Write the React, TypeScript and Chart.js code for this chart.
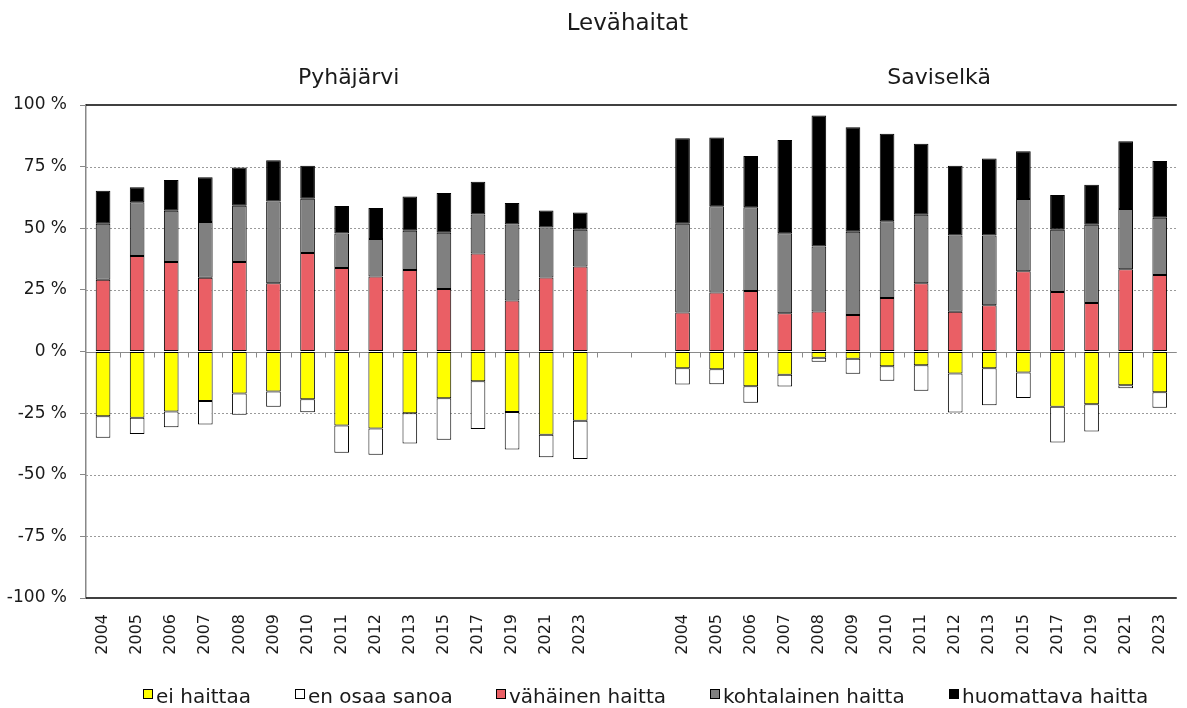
import React, { useEffect, useRef } from 'react';
import { Chart, registerables } from 'chart.js';

Chart.register(...registerables);

const years = ['2004', '2005', '2006', '2007', '2008', '2009', '2010', '2011', '2012', '2013', '2015', '2017', '2019', '2021', '2023'];
const lakes = ['Pyhäjärvi', 'Saviselkä'];
const chartTitle = 'Levähaitat';
const seriesNames = ['ei haittaa', 'en osaa sanoa', 'vähäinen haitta', 'kohtalainen haitta', 'huomattava haitta'];
const seriesColors = ['#FFFF00', '#FFFFFF', '#EA5F65', '#808080', '#000000'];
const yTickValues = [-100, -75, -50, -25, 0, 25, 50, 75, 100];

// Pyhäjärvi (% of answers)
const pyhEiHaittaa = [-26.3, -26.9, -24.3, -20.1, -17.0, -16.2, -19.4, -30.0, -31.2, -25.1, -19.0, -12.1, -24.5, -33.8, -28.1];
const pyhEnOsaa = [-8.7, -6.6, -6.4, -9.5, -8.7, -6.2, -5.2, -11.1, -10.7, -12.2, -16.8, -19.3, -15.3, -9.1, -15.5];
const pyhVahainen = [29.1, 38.7, 36.3, 29.9, 36.3, 27.7, 40.0, 33.9, 30.4, 33.1, 25.4, 39.8, 20.7, 30.0, 34.5];
const pyhKohtalainen = [22.7, 21.8, 20.8, 22.6, 22.8, 33.2, 22.0, 14.0, 15.2, 15.9, 22.8, 15.8, 30.8, 20.3, 14.9];
const pyhHuomattava = [13.4, 6.1, 12.5, 18.2, 15.5, 16.7, 13.4, 11.1, 12.6, 13.9, 16.1, 13.3, 8.7, 6.9, 7.0];

// Saviselkä (% of answers)
const savEiHaittaa = [-6.8, -7.2, -14.1, -9.4, -2.5, -2.9, -6.0, -5.6, -8.9, -6.8, -8.5, -22.4, -21.4, -13.7, -16.5];
const savEnOsaa = [-6.6, -6.1, -6.7, -4.8, -1.7, -6.1, -5.9, -10.3, -15.8, -15.0, -10.4, -14.5, -11.1, -1.2, -6.3];
const savVahainen = [15.8, 23.9, 24.5, 15.5, 16.2, 14.8, 21.7, 27.7, 16.1, 18.8, 32.6, 24.1, 19.7, 33.4, 31.0];
const savKohtalainen = [36.0, 35.0, 34.0, 32.5, 26.4, 33.8, 31.1, 27.8, 31.0, 28.3, 29.3, 25.3, 31.7, 24.4, 23.3];
const savHuomattava = [34.7, 27.9, 20.8, 37.8, 53.1, 42.4, 35.5, 28.8, 28.3, 31.2, 19.3, 14.1, 16.2, 27.5, 23.0];

const pyhSeries = [pyhEiHaittaa, pyhEnOsaa, pyhVahainen, pyhKohtalainen, pyhHuomattava];
const savSeries = [savEiHaittaa, savEnOsaa, savVahainen, savKohtalainen, savHuomattava];

const GAP = 2;
const labels = [...years, ...Array(GAP).fill(''), ...years];
const joinSeries = (a: number[], b: number[]) => [...a, ...Array(GAP).fill(null), ...b];

const FONT = '"DejaVu Sans", sans-serif';
const TEXT_COLOR = '#1a1a1a';

const decorPlugin = {
  id: 'decor',
  beforeDatasetsDraw(chart: any) {
    const { ctx, chartArea: ca, scales } = chart;
    const y = scales.y;
    ctx.save();
    ctx.lineWidth = 1;
    // dotted grid lines
    ctx.strokeStyle = '#9a9a9a';
    ctx.setLineDash([2, 2]);
    for (const v of yTickValues) {
      if (v === 0 || Math.abs(v) === 100) continue;
      const py = Math.round(y.getPixelForValue(v)) + 0.5;
      ctx.beginPath();
      ctx.moveTo(ca.left, py);
      ctx.lineTo(ca.right, py);
      ctx.stroke();
    }
    ctx.setLineDash([]);
    // zero line
    const y0 = Math.round(y.getPixelForValue(0)) + 0.5;
    ctx.strokeStyle = '#8a8a8a';
    ctx.beginPath();
    ctx.moveTo(ca.left, y0);
    ctx.lineTo(ca.right, y0);
    ctx.stroke();
    // category tick marks on the zero line
    const n = labels.length;
    const step = (ca.right - ca.left) / n;
    ctx.beginPath();
    for (let k = 1; k < n; k++) {
      const px = Math.round(ca.left + k * step) + 0.5;
      ctx.moveTo(px, y0);
      ctx.lineTo(px, y0 + 5);
    }
    ctx.stroke();
    ctx.restore();
  },
  afterDatasetsDraw(chart: any) {
    const { ctx, chartArea: ca, scales } = chart;
    const y = scales.y;
    ctx.save();
    ctx.strokeStyle = '#000';
    ctx.lineWidth = 1.5;
    for (const v of [100, -100]) {
      const py = Math.round(y.getPixelForValue(v));
      ctx.beginPath();
      ctx.moveTo(ca.left, py);
      ctx.lineTo(ca.right, py);
      ctx.stroke();
    }
    ctx.restore();
  },
  afterDraw(chart: any) {
    const { ctx, chartArea: ca, scales } = chart;
    const x = scales.x;
    ctx.save();
    ctx.fillStyle = TEXT_COLOR;
    ctx.textBaseline = 'alphabetic';
    ctx.textAlign = 'center';
    // main title
    ctx.font = `23px ${FONT}`;
    ctx.fillText(chartTitle, (ca.left + ca.right) / 2 - 4, 30);
    // lake titles
    ctx.font = `22px ${FONT}`;
    const n = years.length;
    const c1 = (x.getPixelForValue(0) + x.getPixelForValue(n - 1)) / 2;
    const c2 = (x.getPixelForValue(n + GAP) + x.getPixelForValue(2 * n + GAP - 1)) / 2;
    ctx.fillText(lakes[0], c1 + 7, 84);
    ctx.fillText(lakes[1], c2 + 18, 84);
    // legend
    ctx.font = `20px ${FONT}`;
    ctx.textAlign = 'left';
    const box = 10;
    const gap = 3;
    const spacing = 44;
    const widths = seriesNames.map((s) => box + gap + ctx.measureText(s).width);
    const total = widths.reduce((a, b) => a + b, 0) + spacing * (widths.length - 1);
    let cx = (ca.left + ca.right) / 2 + 14 - total / 2;
    const boxTop = 689;
    seriesNames.forEach((s, i) => {
      const bx = Math.round(cx);
      ctx.fillStyle = seriesColors[i];
      ctx.fillRect(bx, boxTop, box, box);
      ctx.strokeStyle = '#000';
      ctx.lineWidth = 1;
      ctx.strokeRect(bx + 0.5, boxTop + 0.5, box - 1, box - 1);
      ctx.fillStyle = TEXT_COLOR;
      ctx.fillText(s, bx + box + gap, 703);
      cx += widths[i] + spacing;
    });
    ctx.restore();
  },
};

export default function App() {
  const canvasRef = useRef<HTMLCanvasElement | null>(null);

  useEffect(() => {
    if (!canvasRef.current) return;
    const chart = new Chart(canvasRef.current, {
      type: 'bar',
      data: {
        labels,
        datasets: seriesNames.map((name, i) => ({
          label: name,
          data: joinSeries(pyhSeries[i], savSeries[i]),
          backgroundColor: seriesColors[i],
          borderColor: '#000',
          borderWidth: 1,
          borderSkipped: false,
          barPercentage: 0.43,
          categoryPercentage: 1,
          stack: 'all',
        })),
      },
      options: {
        responsive: false,
        animation: false,
        devicePixelRatio: 1,
        layout: { padding: { top: 105, right: 4, bottom: 40, left: 0 } },
        plugins: {
          legend: { display: false },
          title: { display: false },
          tooltip: { enabled: false },
        },
        scales: {
          x: {
            stacked: true,
            grid: { display: false, drawTicks: false },
            border: { display: false },
            ticks: {
              autoSkip: false,
              minRotation: 90,
              maxRotation: 90,
              padding: 16,
              color: TEXT_COLOR,
              font: { family: FONT, size: 16 },
            },
            afterFit: (s: any) => {
              s.height = 70;
            },
          },
          y: {
            stacked: true,
            min: -100,
            max: 100,
            ticks: {
              stepSize: 25,
              padding: 13,
              color: TEXT_COLOR,
              font: { family: FONT, size: 17 },
              callback: (v: any) => `${v} %`,
            },
            grid: { drawOnChartArea: false, drawTicks: true, tickLength: 6, color: '#888' },
            border: { display: true, color: '#888', width: 1.5 },
            afterFit: (s: any) => {
              s.width = 86;
            },
          },
        },
      },
      plugins: [decorPlugin],
    });
    return () => chart.destroy();
  }, []);

  return (
    <div style={{ position: 'fixed', left: 0, top: 0, width: 1187, height: 708, overflow: 'hidden', background: '#fff' }}>
      <canvas ref={canvasRef} width={1195} height={708} style={{ display: 'block' }} />
    </div>
  );
}
